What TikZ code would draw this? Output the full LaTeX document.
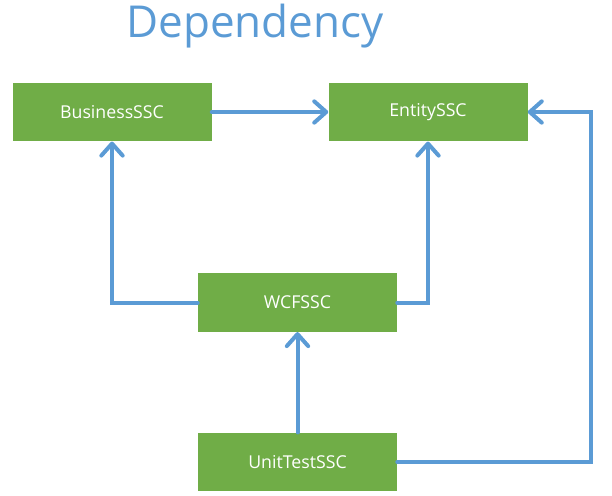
\documentclass[tikz,border=0pt]{standalone}
\usepackage{fontspec}
\setmainfont{Open Sans}
\usetikzlibrary{arrows.meta}
\definecolor{boxgreen}{HTML}{70AD47}
\definecolor{linkblue}{HTML}{5B9BD5}
\begin{document}
\begin{tikzpicture}[x=0.75pt,y=-0.75pt,
  sscbox/.style={draw=none,fill=boxgreen,minimum width=149.25pt,minimum height=44pt,inner sep=0pt,text=white,font=\fontsize{13.3}{15}\selectfont},
  dep/.style={draw=linkblue,line width=3pt,line cap=round,line join=miter,-{Straight Barb[length=9pt,width=16pt,line width=3pt,round]}}]
\useasboundingbox (0,0) rectangle (612,496);
\node[text=linkblue,font=\fontsize{33}{38}\selectfont,anchor=base] (title) at (255,37) {Dependency};
\node[sscbox] (bus) at (112,112) {BusinessSSC};
\node[sscbox] (ent) at (428,112) {EntitySSC};
\node[sscbox] (wcf) at (297.5,302.5) {WCFSSC};
\node[sscbox] (unit) at (297.5,462) {UnitTestSSC};
\coordinate (rc) at (591,0);
\draw[dep] (bus.east) -- (ent.west);
\draw[dep] (wcf.west) -| (bus.south);
\draw[dep] (wcf.east) -| (ent.south);
\draw[dep] (unit.north) -- (wcf.south);
\draw[dep] (unit.east) -- (unit.east -| rc) -- (ent.east -| rc) -- (ent.east);
\end{tikzpicture}
\end{document}
